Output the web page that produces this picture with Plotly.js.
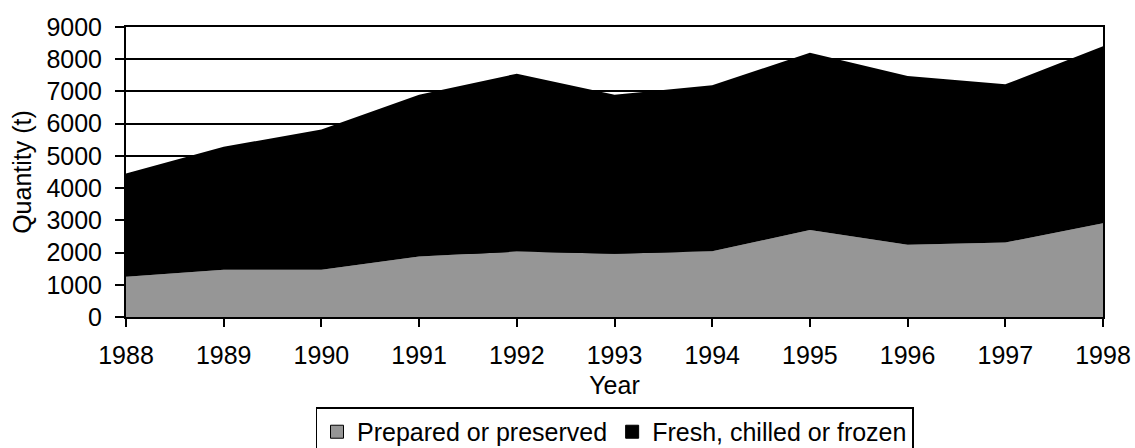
<!DOCTYPE html>
<html>
<head>
<meta charset="utf-8">
<script src="https://cdn.plot.ly/plotly-3.0.1.min.js"></script>
<style>html,body{margin:0;padding:0;background:#fff;}#chart{width:1135px;height:448px;}</style>
</head>
<body>
<div id="chart"></div>
<script>
const years = [1988, 1989, 1990, 1991, 1992, 1993, 1994, 1995, 1996, 1997, 1998];
const prepared = [1250, 1470, 1470, 1880, 2030, 1960, 2040, 2700, 2240, 2310, 2910];
const fresh = [3200, 3810, 4350, 5020, 5520, 4940, 5150, 5500, 5240, 4910, 5490];
const seriesNames = ["Prepared or preserved", "Fresh, chilled or frozen"];
const yTicks = [0, 1000, 2000, 3000, 4000, 5000, 6000, 7000, 8000, 9000];

const GRAY = "#969696";
const BLACK = "#000000";
const FONT = "Liberation Sans, Arial, sans-serif";

const traces = [
  {x: years, y: prepared, name: seriesNames[0], type: "scatter", mode: "lines",
   stackgroup: "one", line: {width: 0, color: GRAY}, fillcolor: GRAY, showlegend: false, hoverinfo: "x+y"},
  {x: years, y: fresh, name: seriesNames[1], type: "scatter", mode: "lines",
   stackgroup: "one", line: {width: 0, color: BLACK}, fillcolor: BLACK, showlegend: false, hoverinfo: "x+y"},
  {x: [null], y: [null], name: seriesNames[0], type: "scatter", mode: "markers",
   marker: {symbol: "square", size: 13, color: GRAY, line: {color: BLACK, width: 1}}, showlegend: true},
  {x: [null], y: [null], name: seriesNames[1], type: "scatter", mode: "markers",
   marker: {symbol: "square", size: 13, color: BLACK, line: {color: BLACK, width: 1}}, showlegend: true}
];

const layout = {
  width: 1135, height: 448,
  margin: {l: 126, r: 32, t: 27, b: 131, autoexpand: false},
  paper_bgcolor: "#ffffff", plot_bgcolor: "#ffffff",
  font: {family: FONT, size: 25, color: "#000"},
  showlegend: true,
  xaxis: {
    range: [1988, 1998], tickmode: "array", tickvals: years, ticktext: years.map(String),
    showgrid: false, zeroline: false, showline: true, linecolor: BLACK, linewidth: 2,
    mirror: true, ticks: "outside", ticklen: 8, tickwidth: 2, tickcolor: BLACK,
    ticklabelstandoff: 7,
    tickfont: {family: FONT, size: 25, color: "#000"},
    title: {text: "Year", font: {family: FONT, size: 25, color: "#000"}, standoff: 8}
  },
  yaxis: {
    range: [0, 9000], tickmode: "array", tickvals: yTicks, ticktext: yTicks.map(String),
    showgrid: true, gridcolor: BLACK, gridwidth: 2, zeroline: false,
    showline: true, linecolor: BLACK, linewidth: 2, mirror: true,
    ticks: "outside", ticklen: 9, tickwidth: 2, tickcolor: BLACK,
    ticklabelstandoff: 8,
    tickfont: {family: FONT, size: 25, color: "#000"},
    title: {text: "Quantity (t)", font: {family: FONT, size: 25, color: "#000"}, standoff: 8}
  },
  legend: {
    orientation: "h", x: 0.5, xanchor: "center", xref: "paper",
    y: -0.312, yanchor: "top", traceorder: "normal",
    bordercolor: BLACK, borderwidth: 1.5, bgcolor: "#fff",
    font: {family: FONT, size: 25, color: "#000"},
    itemwidth: 30, tracegroupgap: 0
  }
};

Plotly.newPlot("chart", traces, layout, {displayModeBar: false, staticPlot: true});
</script>
</body>
</html>
